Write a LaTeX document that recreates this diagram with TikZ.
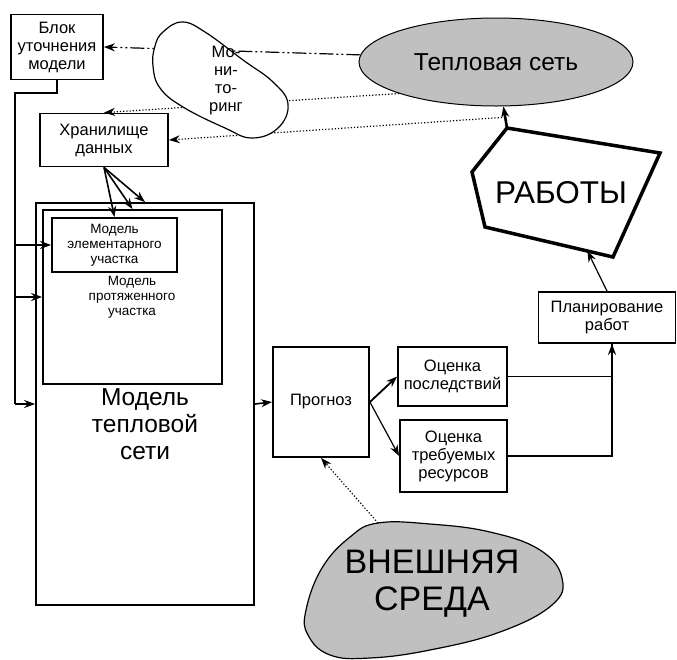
\documentclass[tikz,border=0pt]{standalone}
\usepackage{fontspec}
\setmainfont{Liberation Sans}
\usetikzlibrary{arrows.meta,positioning,calc,shapes.geometric}
\definecolor{cloud}{RGB}{192,192,192}

\begin{document}
\begin{tikzpicture}[x=1pt,y=-1pt] % one unit = one pixel of the scheme
\tikzset{box/.style={draw, line width=1.8pt, align=center, inner sep=0pt, font=\fontsize{16.5}{18}\selectfont}} % plain blocks
\tikzset{small/.style={align=center, font=\fontsize{13.5}{15}\selectfont}} % texts of the inner models
\tikzset{link/.style={line width=1.2pt, -{Stealth[length=11pt,width=8pt]}}}
\tikzset{feed/.style={link, dotted}} % measured data
\useasboundingbox (0,0) rectangle (677,659);

% blocks
\node[box, minimum width=92pt, minimum height=65pt] (blok) at (57,47) {Блок\\уточнения\\модели};
\node[box, minimum width=128pt, minimum height=53pt] (hran) at (104,140) {Хранилище\\данных};
\node[box, minimum width=218pt, minimum height=402pt] (model) at (145,404) {};
\node[box, minimum width=179pt, minimum height=174pt] (prot) at (132.5,297) {};
\node[box, minimum width=125pt, minimum height=54pt, small] (elem) at (114.5,245) {Модель\\элементарного\\участка};
\node[small] (prot-txt) at (132,297) {Модель\\протяженного\\участка};
\node[align=center, font=\fontsize{24.5}{27}\selectfont] (model-txt) at (145,424) {Модель\\тепловой\\сети};
\node[box, minimum width=96pt, minimum height=110pt] (prognoz) at (321,402) {Прогноз};
\node[box, minimum width=109pt, minimum height=59pt] (ocenka1) at (452.5,376.5) {Оценка\\последствий};
\node[box, minimum width=107pt, minimum height=72pt] (ocenka2) at (453.5,456) {Оценка\\требуемых\\ресурсов};
\node[box, minimum width=137pt, minimum height=51pt] (plan) at (607,317.5) {Планирование\\работ};
\node[draw, ellipse, line width=1pt, fill=cloud, minimum width=274pt, minimum height=88pt, font=\fontsize{24.5}{26}\selectfont] (teplo) at (496,62) {Тепловая сеть};

% works
\draw[line width=3.5pt] (507,128) coordinate (rab-top) -- (660,153) -- (613,257) -- coordinate[pos=0.2] (rab-bot) (485,227) -- (472,172) -- cycle;
\node[font=\fontsize{31.5}{33}\selectfont] (raboty) at (561,193) {РАБОТЫ};
\draw[link, line width=2.6pt] (rab-top) -- coordinate[pos=0.5] (rab-mid) (teplo);
\draw[link] (plan.north) -- (rab-bot);

% monitoring
\draw[link, line width=1.2pt, dash pattern=on 14pt off 3pt on 2pt off 3pt on 2pt off 3pt] (teplo.177) -- (blok.east);
\draw[feed] (teplo.198) -- (hran.north);
\draw[feed] (rab-mid) -- (hran.east);
\draw[line width=1.2pt, fill=white] plot[smooth cycle, tension=0.7] coordinates {(163,32) (182,22) (205,32) (243,60) (273,82) (288,104) (278,128) (252,138) (225,128) (183,107) (160,88) (153,66) (155,46)};
\node[align=center, font=\fontsize{16.5}{18}\selectfont] (monit) at (226,81) {Мо-\\ни-\\то-\\ринг};

% model inputs
\coordinate (bus) at (15,93);
\draw[line width=1.8pt] (blok.south) |- (bus) -- (bus |- model.west);
\foreach \t in {elem, prot, model} \draw[link, line width=1.6pt] (bus |- \t.west) -- (\t.west);
\foreach \t in {elem, prot, model} \draw[link, line width=1.6pt] (hran.south) -- (\t.north);

% forecast and planning
\draw[link, line width=1.6pt] (model.east) -- (prognoz.west);
\draw[link, line width=1.8pt] (prognoz.east) -- (ocenka1.west);
\draw[link] (prognoz.east) -- (ocenka2.west);
\draw[line width=1.6pt] (ocenka1.east) -| ([xshift=5pt]plan.south);
\draw[link, line width=1.6pt] (ocenka2.east) -| ([xshift=5pt]plan.south);

% environment
\draw[line width=1.2pt, fill=cloud] plot[smooth cycle, tension=0.7] coordinates {(378,523) (430,524) (490,532) (540,550) (562,578) (552,605) (500,632) (430,650) (370,658) (330,655) (308,635) (306,610) (322,568) (350,537)};
\coordinate (vn-top) at (378,523);
\node[align=center, font=\fontsize{34}{37}\selectfont] (vneshn) at (432,584) {ВНЕШНЯЯ\\СРЕДА};
\draw[feed] (vn-top) -- (prognoz.south);
\end{tikzpicture}
\end{document}
